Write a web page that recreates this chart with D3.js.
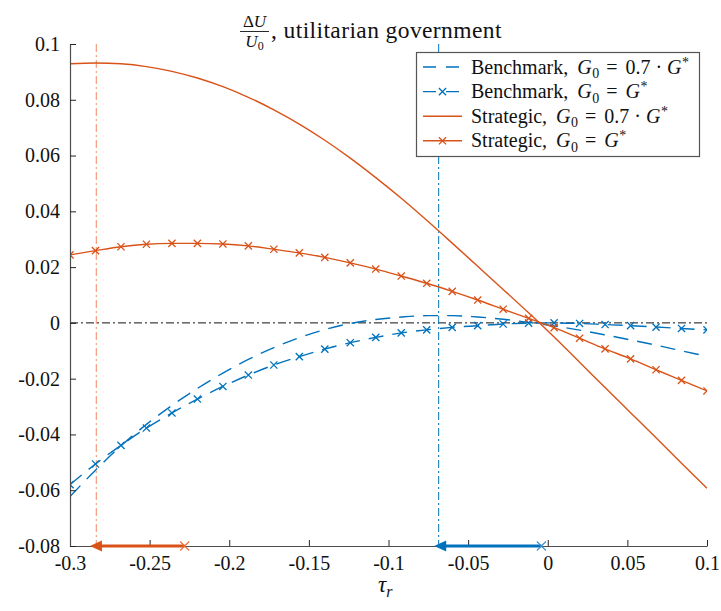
<!DOCTYPE html>
<html>
<head>
<meta charset="utf-8">
<script src="https://cdn.jsdelivr.net/npm/d3@7"></script>
<style>
  html, body { margin: 0; padding: 0; background: #fff; }
  svg { display: block; }
  svg text { font-family: "Liberation Serif", "Times New Roman", "DejaVu Serif", serif; }
</style>
</head>
<body>
<svg id="chart" width="721" height="611"></svg>
<script>
// Tax rate grid (tau_r) shared by all four welfare curves
const tauGrid = [-0.3, -0.284, -0.268, -0.252, -0.236, -0.22, -0.204, -0.188, -0.172,
  -0.156, -0.14, -0.124, -0.108, -0.092, -0.076, -0.06, -0.044, -0.028, -0.012,
  0.004, 0.02, 0.036, 0.052, 0.068, 0.084, 0.1];

// Relative welfare change dU/U0
const benchmarkLow = [-0.0623, -0.0528, -0.0441, -0.0364, -0.0296, -0.0235, -0.0180, -0.0131,
  -0.0089, -0.0053, -0.0024, -0.0002, 0.0012, 0.0021, 0.0026, 0.0026, 0.0021, 0.0013, 0.0002,
  -0.0011, -0.0026, -0.0043, -0.0061, -0.0080, -0.0100, -0.0120];
const benchmarkFull = [-0.0580, -0.0506, -0.0439, -0.0377, -0.0323, -0.0273, -0.0228, -0.0187,
  -0.0151, -0.0121, -0.0094, -0.0071, -0.0052, -0.0036, -0.0025, -0.0016, -0.0010, -0.0004,
  -0.0001, 0.0000, -0.0002, -0.0006, -0.0010, -0.0015, -0.0020, -0.0025];
const strategicLow = [0.0929, 0.0932, 0.0929, 0.0919, 0.0902, 0.0878, 0.0847, 0.0809, 0.0764,
  0.0713, 0.0655, 0.0591, 0.0521, 0.0447, 0.0368, 0.0286, 0.0203, 0.0120, 0.0036, -0.0051,
  -0.0141, -0.0232, -0.0322, -0.0412, -0.0503, -0.0593];
const strategicFull = [0.0244, 0.0259, 0.0273, 0.0282, 0.0285, 0.0285, 0.0283, 0.0276, 0.0264,
  0.0251, 0.0235, 0.0215, 0.0193, 0.0168, 0.0142, 0.0113, 0.0082, 0.0049, 0.0016, -0.0017,
  -0.0055, -0.0093, -0.0129, -0.0168, -0.0206, -0.0244];

// Optimal tax rates (vertical reference lines) and the shift arrows drawn on the bottom axis
const optimalTau = [-0.2835, -0.0685];
const arrowFrom = [-0.228, -0.004];
const arrowTo = [-0.2875, -0.0713];

// Axis ticks
const xTicks = [-0.3, -0.25, -0.2, -0.15, -0.1, -0.05, 0, 0.05, 0.1];
const xTickLabels = ["-0.3", "-0.25", "-0.2", "-0.15", "-0.1", "-0.05", "0", "0.05", "0.1"];
const yTicks = [-0.08, -0.06, -0.04, -0.02, 0, 0.02, 0.04, 0.06, 0.08, 0.1];
const yTickLabels = ["-0.08", "-0.06", "-0.04", "-0.02", "0", "0.02", "0.04", "0.06", "0.08", "0.1"];

const BLUE = "#0072BD", ORANGE = "#D95319";
const SERIF = "'Liberation Serif', 'Times New Roman', 'DejaVu Serif', serif";

const svg = d3.select("#chart");
const x = d3.scaleLinear().domain([-0.3, 0.1]).range([70, 707]);
const y = d3.scaleLinear().domain([-0.08, 0.1]).range([546, 44]);

svg.append("defs").append("clipPath").attr("id", "plot-clip")
  .append("rect").attr("x", 70).attr("y", 44).attr("width", 637).attr("height", 502);

const plot = svg.append("g").attr("clip-path", "url(#plot-clip)");

// zero line
plot.append("line")
  .attr("x1", x(-0.3)).attr("x2", x(0.1)).attr("y1", y(0)).attr("y2", y(0))
  .attr("stroke", "#111").attr("stroke-width", 1).attr("stroke-dasharray", "8,3,2,3");

// optimal tax reference lines
const refColors = ["#EE8A60", BLUE];
optimalTau.forEach((t, i) => {
  plot.append("line")
    .attr("x1", x(t)).attr("x2", x(t)).attr("y1", y(0.1)).attr("y2", y(-0.08))
    .attr("stroke", refColors[i]).attr("stroke-width", 1).attr("stroke-dasharray", "8,3,2,3");
});

const series = [
  { values: benchmarkLow, color: BLUE, dash: "15,9", markers: false },
  { values: benchmarkFull, color: BLUE, dash: "15,9", markers: true },
  { values: strategicLow, color: ORANGE, dash: null, markers: false },
  { values: strategicFull, color: ORANGE, dash: null, markers: true }
];

const line = d3.line().x(d => x(d[0])).y(d => y(d[1])).curve(d3.curveMonotoneX);

function cross(g, cx, cy, r, color, w) {
  g.append("path")
    .attr("d", `M${cx - r},${cy - r}L${cx + r},${cy + r}M${cx - r},${cy + r}L${cx + r},${cy - r}`)
    .attr("stroke", color).attr("stroke-width", w).attr("fill", "none");
}

series.forEach(s => {
  const pts = tauGrid.map((t, i) => [t, s.values[i]]);
  plot.append("path").datum(pts)
    .attr("d", line)
    .attr("fill", "none")
    .attr("stroke", s.color)
    .attr("stroke-width", 1.4)
    .attr("stroke-dasharray", s.dash);
  if (s.markers) {
    pts.forEach(p => cross(plot, x(p[0]), y(p[1]), 3.6, s.color, 1.3));
  }
});

// axes
const xAxis = d3.axisBottom(x).tickValues(xTicks)
  .tickFormat((d, i) => xTickLabels[i]).tickSizeInner(-6).tickSizeOuter(0).tickPadding(10);
const yAxis = d3.axisLeft(y).tickValues(yTicks)
  .tickFormat((d, i) => yTickLabels[i]).tickSizeInner(-6).tickSizeOuter(0).tickPadding(10);

const gx = svg.append("g").attr("transform", `translate(0,${y(-0.08)})`).call(xAxis);
const gy = svg.append("g").attr("transform", `translate(${x(-0.3)},0)`).call(yAxis);
[gx, gy].forEach(g => {
  g.attr("font-family", SERIF).attr("font-size", 20);
  g.select(".domain").attr("stroke", "#4d4d4d").attr("stroke-width", 1.2);
  g.selectAll(".tick line").attr("stroke", "#262626").attr("stroke-width", 1);
  g.selectAll(".tick text").attr("fill", "#111");
});

// shift arrows along the bottom axis
const arrowColors = [ORANGE, BLUE];
const crossColors = ["#E8703C", "#3A8FD0"];
arrowFrom.forEach((f, i) => {
  const y0 = y(-0.08);
  const xs = x(f), xt = x(arrowTo[i]);
  svg.append("line")
    .attr("x1", xs).attr("x2", xt + 9).attr("y1", y0).attr("y2", y0)
    .attr("stroke", arrowColors[i]).attr("stroke-width", 3);
  svg.append("path")
    .attr("d", `M${xt},${y0}L${xt + 12},${y0 - 5.5}L${xt + 12},${y0 + 5.5}Z`)
    .attr("fill", arrowColors[i]);
  cross(svg, xs, y0, 4.5, crossColors[i], 1.1);
});

// legend
const legend = svg.append("g");
legend.append("rect")
  .attr("x", 416.5).attr("y", 52.5).attr("width", 283).attr("height", 104)
  .attr("fill", "#fff").attr("stroke", "#555").attr("stroke-width", 1.2);

const legendItems = [
  { word: "Benchmark", factor: true, s: series[0] },
  { word: "Benchmark", factor: false, s: series[1] },
  { word: "Strategic", factor: true, s: series[2] },
  { word: "Strategic", factor: false, s: series[3] }
];
legendItems.forEach((it, i) => {
  const cy = 67 + i * 24.6;
  legend.append("line")
    .attr("x1", 423).attr("x2", 462).attr("y1", cy).attr("y2", cy)
    .attr("stroke", it.s.color).attr("stroke-width", 1.4)
    .attr("stroke-dasharray", it.s.dash ? "13,10" : null);
  if (it.s.markers) cross(legend, 442.5, cy, 3.6, it.s.color, 1.3);
  const t = legend.append("text").attr("x", 471).attr("y", cy + 6.5)
    .attr("font-family", SERIF).attr("font-size", 20).attr("fill", "#111");
  t.append("tspan").text(it.word + ",");
  t.append("tspan").attr("dx", 9).attr("font-style", "italic").text("G");
  t.append("tspan").attr("dx", 0.5).attr("dy", 4.5).attr("font-size", 14).text("0");
  t.append("tspan").attr("dx", 7).attr("dy", -4.5).text("=");
  if (it.factor) {
    t.append("tspan").attr("dx", 8).text("0.7");
    t.append("tspan").attr("dx", 5).text("\u00B7");
    t.append("tspan").attr("dx", 5).attr("font-style", "italic").text("G");
  } else {
    t.append("tspan").attr("dx", 8).attr("font-style", "italic").text("G");
  }
  t.append("tspan").attr("dx", 0.5).attr("dy", -7).attr("font-size", 14).text("*");
});

// title: dU/U0, utilitarian government
const title = svg.append("g").attr("fill", "#111");
const num = title.append("text").attr("x", 254.5).attr("y", 27).attr("text-anchor", "middle")
  .attr("font-family", SERIF).attr("font-size", 17);
num.append("tspan").text("\u0394");
num.append("tspan").attr("font-style", "italic").text("U");
title.append("line").attr("x1", 240).attr("x2", 269).attr("y1", 31.5).attr("y2", 31.5)
  .attr("stroke", "#111").attr("stroke-width", 0.9);
const den = title.append("text").attr("x", 254.5).attr("y", 47).attr("text-anchor", "middle")
  .attr("font-family", SERIF).attr("font-size", 17);
den.append("tspan").attr("font-style", "italic").text("U");
den.append("tspan").attr("dy", 3).attr("font-size", 12).text("0");
title.append("text").attr("x", 271).attr("y", 37.5)
  .attr("font-family", SERIF).attr("font-size", 23.5).style("letter-spacing", "0.4px")
  .text(", utilitarian government");

// x-axis label
const xl = svg.append("text").attr("x", 378).attr("y", 592).attr("fill", "#111")
  .attr("font-family", SERIF).attr("font-size", 23);
xl.append("tspan").attr("font-style", "italic").text("\u03C4");
xl.append("tspan").attr("dy", 5).attr("font-size", 16).attr("font-style", "italic").text("r");
</script>
</body>
</html>
